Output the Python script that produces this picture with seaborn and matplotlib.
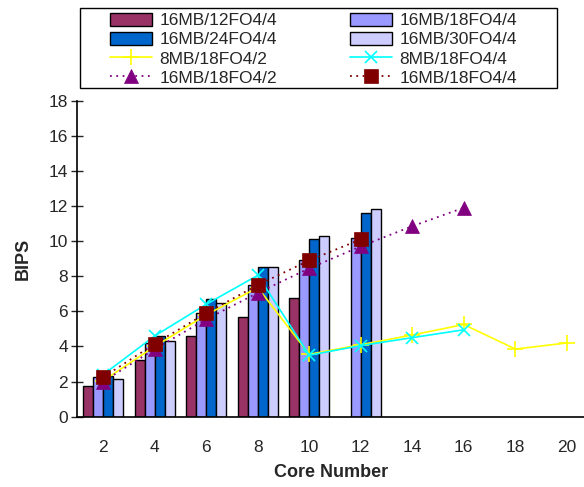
import numpy as np
import pandas as pd
import seaborn as sns
from matplotlib import pyplot as plt
from matplotlib.patches import Patch, Rectangle
from matplotlib.ticker import FixedLocator


# Core counts on the x axis
cores = [2, 4, 6, 8, 10, 12, 14, 16, 18, 20]

# Bar series (16MB cache, 4-wide), BIPS per core count
bar_cores = [2, 4, 6, 8, 10, 12]
fo12 = [1.75, 3.2, 4.6, 5.7, 6.75, np.nan]
fo18 = [2.25, 4.2, 5.9, 7.5, 8.9, 10.15]
fo24 = [2.3, 4.6, 6.7, 8.5, 10.1, 11.6]
fo30 = [2.15, 4.3, 6.45, 8.55, 10.3, 11.8]

# Line series
mb8_2_cores = [2, 4, 6, 8, 10, 12, 14, 16, 18, 20]
mb8_2 = [2.05, 4.0, 5.8, 7.35, 3.55, 4.1, 4.65, 5.25, 3.85, 4.2]
mb8_4_cores = [2, 4, 6, 8, 10, 12, 14, 16]
mb8_4 = [2.4, 4.6, 6.4, 8.05, 3.5, 4.05, 4.5, 4.95]
mb16_2_cores = [2, 4, 6, 8, 10, 12, 14, 16]
mb16_2 = [2.0, 3.85, 5.55, 7.05, 8.45, 9.7, 10.85, 11.9]
mb16_4_cores = [2, 4, 6, 8, 10, 12]
mb16_4 = [2.25, 4.15, 5.9, 7.5, 8.9, 10.1]


bars = pd.DataFrame({
    'Core Number': bar_cores * 4,
    'BIPS': fo12 + fo18 + fo24 + fo30,
    'Config': (['16MB/12FO4/4'] * 6 + ['16MB/18FO4/4'] * 6
               + ['16MB/24FO4/4'] * 6 + ['16MB/30FO4/4'] * 6),
})
bar_order = ['16MB/12FO4/4', '16MB/18FO4/4', '16MB/24FO4/4', '16MB/30FO4/4']
bar_colors = ['#993366', '#9999FF', '#0066CC', '#CCCCFF']

sns.set_style('white')
plt.rcParams['font.family'] = ['Liberation Sans', 'DejaVu Sans']

fig = plt.figure(figsize=(5.84, 4.87), dpi=100)
ax = fig.add_axes([0.1327, 0.1444, 0.867, 0.649])

sns.barplot(data=bars, x='Core Number', y='BIPS', hue='Config', order=cores,
            hue_order=bar_order, palette=bar_colors, width=0.78,
            edgecolor='black', linewidth=1.0, saturation=1, ax=ax, legend=False)


def pos(xs):
    # categorical slot of each core count
    return [cores.index(c) for c in xs]


sns.lineplot(x=pos(mb8_2_cores), y=mb8_2, color='#FFFF00', marker='+',
             markersize=12, markeredgecolor='#FFFF00', markeredgewidth=1.2,
             linewidth=1.2, ax=ax, zorder=3)
sns.lineplot(x=pos(mb8_4_cores), y=mb8_4, color='#00FFFF', marker='x',
             markersize=8, markeredgecolor='#00FFFF', markeredgewidth=1.2,
             linewidth=1.2, ax=ax, zorder=3)
sns.lineplot(x=pos(mb16_2_cores), y=mb16_2, color='#800080', marker='^',
             markersize=10, markeredgecolor='#800080', markeredgewidth=0.5,
             linestyle=(0, (1, 2.5)), linewidth=1.3, ax=ax, zorder=4)
sns.lineplot(x=pos(mb16_4_cores), y=mb16_4, color='#800000', marker='s',
             markersize=9.5, markeredgecolor='#800000', markeredgewidth=0.5,
             linestyle=(0, (1, 2.5)), linewidth=1.3, ax=ax, zorder=5)

ax.set_ylim(0, 18)
ax.set_yticks(range(0, 19, 2))
ax.set_xlim(-0.5, 9.33)
ax.xaxis.set_minor_locator(FixedLocator(np.arange(-0.5, 10, 1)))
ax.tick_params(axis='x', which='major', length=0, pad=17, labelsize=12.5)
ax.tick_params(axis='x', which='minor', direction='inout', length=8, width=1)
ax.tick_params(axis='y', direction='inout', length=8, width=1, pad=3,
               labelsize=12.5, left=True)
ax.set_xlabel('Core Number', fontsize=13, fontweight='bold', labelpad=6)
ax.set_ylabel('BIPS', fontsize=13, fontweight='bold', labelpad=12)

for side in ['top', 'right']:
    ax.spines[side].set_visible(False)
for side in ['left', 'bottom']:
    ax.spines[side].set_color('black')
    ax.spines[side].set_linewidth(1.2)

# legend, filled column by column to match the 2-column layout
bar_handles = [Patch(facecolor=c, edgecolor='black') for c in bar_colors]
line_handles = ax.get_lines()[-4:]
handles = [bar_handles[0], bar_handles[2], line_handles[0], line_handles[2],
           bar_handles[1], bar_handles[3], line_handles[1], line_handles[3]]
labels = ['16MB/12FO4/4', '16MB/24FO4/4', '8MB/18FO4/2', '16MB/18FO4/2',
          '16MB/18FO4/4', '16MB/30FO4/4', '8MB/18FO4/4', '16MB/18FO4/4']
leg = fig.legend(handles, labels, ncol=2, loc='upper left',
                 bbox_to_anchor=(0.188, 0.823, 0.697, 0.151), mode='expand',
                 fontsize=12.5, frameon=False, borderpad=0,
                 labelspacing=0.2, handlelength=2.45, handleheight=0.8,
                 handletextpad=0.4, borderaxespad=0)
fig.patches.append(Rectangle((0.137, 0.819), 0.817, 0.164,
                             transform=fig.transFigure, fill=False,
                             edgecolor='black', linewidth=1.0))

fig.savefig('out.png', dpi=100)
